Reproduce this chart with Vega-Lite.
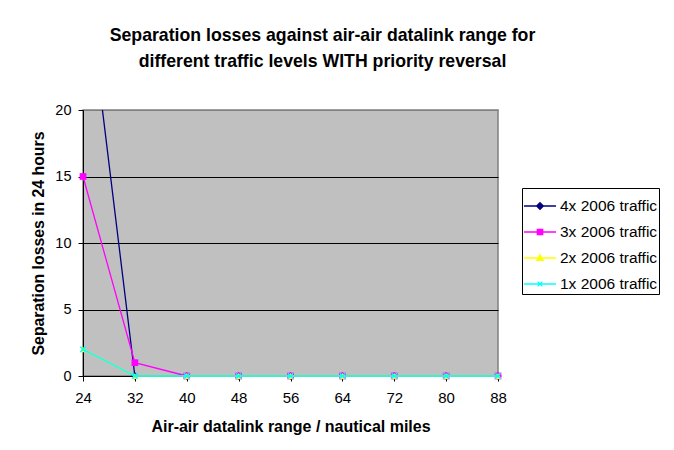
{
  "$schema": "https://vega.github.io/schema/vega-lite/v6.json",
  "width": 415,
  "height": 266,
  "autosize": {"type": "none"},
  "padding": {"left": 83, "top": 110, "right": 176, "bottom": 74},
  "background": "white",
  "title": {
    "text": ["Separation losses against air-air datalink range for", "different traffic levels WITH priority reversal"],
    "font": "Liberation Sans",
    "fontSize": 17.7,
    "fontWeight": "bold",
    "color": "black",
    "anchor": "middle",
    "frame": "group",
    "dx": 32,
    "offset": 31,
    "lineHeight": 26
  },
  "config": {
    "font": "Liberation Sans",
    "view": {"fill": "#C0C0C0", "stroke": "#808080", "strokeWidth": 1.5},
    "legend": {
      "orient": "none",
      "legendX": 439,
      "legendY": 78,
      "title": null,
      "strokeColor": "black",
      "fillColor": "white",
      "padding": 1,
      "labelFontSize": 15.5,
      "labelColor": "black",
      "labelOffset": 3,
      "symbolSize": 1024,
      "symbolStrokeWidth": 1.3,
      "symbolOpacity": 1,
      "rowPadding": -0.6
    }
  },
  "data": {
    "values": [
      {"series": "4x 2006 traffic", "range": 24, "value": 32},
      {"series": "4x 2006 traffic", "range": 32, "value": 0},
      {"series": "4x 2006 traffic", "range": 40, "value": 0},
      {"series": "4x 2006 traffic", "range": 48, "value": 0},
      {"series": "4x 2006 traffic", "range": 56, "value": 0},
      {"series": "4x 2006 traffic", "range": 64, "value": 0},
      {"series": "4x 2006 traffic", "range": 72, "value": 0},
      {"series": "4x 2006 traffic", "range": 80, "value": 0},
      {"series": "4x 2006 traffic", "range": 88, "value": 0},
      {"series": "3x 2006 traffic", "range": 24, "value": 15},
      {"series": "3x 2006 traffic", "range": 32, "value": 1},
      {"series": "3x 2006 traffic", "range": 40, "value": 0},
      {"series": "3x 2006 traffic", "range": 48, "value": 0},
      {"series": "3x 2006 traffic", "range": 56, "value": 0},
      {"series": "3x 2006 traffic", "range": 64, "value": 0},
      {"series": "3x 2006 traffic", "range": 72, "value": 0},
      {"series": "3x 2006 traffic", "range": 80, "value": 0},
      {"series": "3x 2006 traffic", "range": 88, "value": 0},
      {"series": "2x 2006 traffic", "range": 24, "value": 2},
      {"series": "2x 2006 traffic", "range": 32, "value": 0},
      {"series": "2x 2006 traffic", "range": 40, "value": 0},
      {"series": "2x 2006 traffic", "range": 48, "value": 0},
      {"series": "2x 2006 traffic", "range": 56, "value": 0},
      {"series": "2x 2006 traffic", "range": 64, "value": 0},
      {"series": "2x 2006 traffic", "range": 72, "value": 0},
      {"series": "2x 2006 traffic", "range": 80, "value": 0},
      {"series": "2x 2006 traffic", "range": 88, "value": 0},
      {"series": "1x 2006 traffic", "range": 24, "value": 2},
      {"series": "1x 2006 traffic", "range": 32, "value": 0},
      {"series": "1x 2006 traffic", "range": 40, "value": 0},
      {"series": "1x 2006 traffic", "range": 48, "value": 0},
      {"series": "1x 2006 traffic", "range": 56, "value": 0},
      {"series": "1x 2006 traffic", "range": 64, "value": 0},
      {"series": "1x 2006 traffic", "range": 72, "value": 0},
      {"series": "1x 2006 traffic", "range": 80, "value": 0},
      {"series": "1x 2006 traffic", "range": 88, "value": 0}
    ]
  },
  "encoding": {
    "x": {
      "field": "range",
      "type": "quantitative",
      "scale": {"domain": [24, 88], "nice": false, "zero": false},
      "axis": {
        "values": [24, 32, 40, 48, 56, 64, 72, 80, 88],
        "grid": false,
        "title": "Air-air datalink range / nautical miles",
        "titleFontSize": 16,
        "titleFontWeight": "bold",
        "titleColor": "black",
        "titlePadding": 13,
        "labelFontSize": 15,
        "labelColor": "black",
        "labelPadding": 9,
        "labelFlush": false,
        "domainColor": "black",
        "tickColor": "black",
        "tickSize": 5
      }
    },
    "y": {
      "field": "value",
      "type": "quantitative",
      "scale": {"domain": [0, 20], "nice": false},
      "axis": {
        "values": [0, 5, 10, 15, 20],
        "grid": true,
        "gridColor": {"condition": {"test": "datum.value == 20", "value": "#808080"}, "value": "black"},
        "gridOpacity": 1,
        "gridWidth": 1,
        "title": "Separation losses in 24 hours",
        "titleFontSize": 15.8,
        "titleFontWeight": "bold",
        "titleColor": "black",
        "titlePadding": 8,
        "labelFontSize": 14.5,
        "labelColor": "black",
        "labelPadding": 7,
        "labelFlush": false,
        "domainColor": "black",
        "tickColor": "black",
        "tickSize": 5
      }
    },
    "color": {
      "field": "series",
      "type": "nominal",
      "scale": {
        "domain": ["4x 2006 traffic", "3x 2006 traffic", "2x 2006 traffic", "1x 2006 traffic"],
        "range": ["#000080", "#FF00FF", "#FFFF00", "#00FFFF"]
      }
    }
  },
  "layer": [
    {
      "transform": [{"filter": "datum.series == '4x 2006 traffic'"}],
      "mark": {"type": "line", "clip": true, "strokeWidth": 1.3}
    },
    {
      "transform": [{"filter": "datum.series == '4x 2006 traffic' && datum.value <= 20"}],
      "mark": {"type": "point", "filled": true, "shape": "diamond", "opacity": 1, "size": 55}
    },
    {
      "transform": [{"filter": "datum.series == '3x 2006 traffic'"}],
      "mark": {"type": "line", "strokeWidth": 1.3}
    },
    {
      "transform": [{"filter": "datum.series == '3x 2006 traffic'"}],
      "mark": {"type": "point", "filled": true, "shape": "square", "opacity": 1, "size": 45}
    },
    {
      "transform": [{"filter": "datum.series == '2x 2006 traffic'"}],
      "mark": {"type": "line", "strokeWidth": 1.3}
    },
    {
      "transform": [{"filter": "datum.series == '2x 2006 traffic'"}],
      "mark": {"type": "point", "filled": true, "shape": "triangle-up", "opacity": 1, "size": 45}
    },
    {
      "transform": [{"filter": "datum.series == '1x 2006 traffic'"}],
      "mark": {"type": "line", "strokeWidth": 1.3}
    },
    {
      "transform": [{"filter": "datum.series == '1x 2006 traffic'"}],
      "mark": {"type": "point", "filled": false, "shape": "M-0.8,-0.8L0.8,0.8M-0.8,0.8L0.8,-0.8", "opacity": 1, "size": 45, "strokeWidth": 1.4}
    },
    {
      "transform": [{"filter": "datum.range < 0"}],
      "mark": {"type": "point", "filled": true, "opacity": 1},
      "encoding": {
        "stroke": {
          "field": "series",
          "type": "nominal",
          "scale": {
            "domain": ["4x 2006 traffic", "3x 2006 traffic", "2x 2006 traffic", "1x 2006 traffic"],
            "range": ["#000080", "#FF00FF", "#FFFF00", "#00FFFF"]
          }
        },
        "shape": {
          "field": "series",
          "type": "nominal",
          "scale": {
            "domain": ["4x 2006 traffic", "3x 2006 traffic", "2x 2006 traffic", "1x 2006 traffic"],
            "range": [
              "M-1,0L1,0M0,-0.21L0.21,0L0,0.21L-0.21,0Z",
              "M-1,0L1,0M-0.17,-0.17L0.17,-0.17L0.17,0.17L-0.17,0.17Z",
              "M-1,0L1,0M0,-0.2L0.2,0.15L-0.2,0.15Z",
              "M-1,0L1,0M-0.15,-0.15L0.15,0.15M-0.15,0.15L0.15,-0.15"
            ]
          }
        }
      }
    }
  ]
}
